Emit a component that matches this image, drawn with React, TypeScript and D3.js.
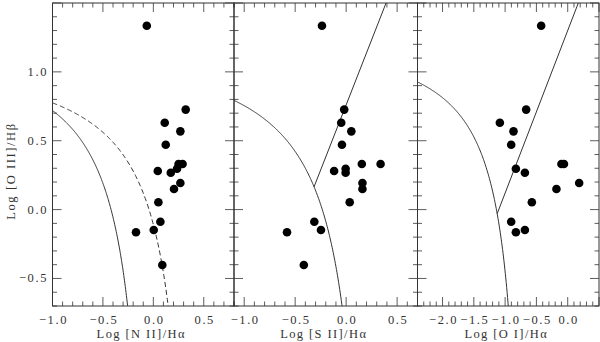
import React, { useEffect, useRef } from 'react'
import * as d3 from 'd3'

// log([O III]/Hbeta), one value per object
const oiii = [1.335, 0.726, 0.631, 0.568, 0.471, 0.331, 0.331, 0.297, 0.268, 0.28, 0.193, 0.15, 0.053, -0.088, -0.148, -0.165, -0.402]
// log([N II]/Halpha)
const nii = [-0.065, 0.321, 0.113, 0.268, 0.123, 0.29, 0.25, 0.235, 0.173, 0.044, 0.268, 0.205, 0.05, 0.07, 0.004, -0.172, 0.089]
// log([S II]/Halpha)
const sii = [-0.237, -0.019, -0.048, 0.051, -0.041, 0.154, 0.338, -0.005, -0.005, -0.118, 0.16, 0.16, 0.035, -0.312, -0.247, -0.58, -0.415]
// log([O I]/Halpha), null = no measurement
const oi = [-0.424, -0.664, -1.084, -0.866, -0.903, -0.1, -0.06, -0.828, -0.684, null, 0.183, -0.18, -0.573, -0.903, -0.684, -0.828, null]

const yTicks = [-0.5, 0.0, 0.5, 1.0]
const xTicks1 = [-1.0, -0.5, 0.0, 0.5]
const xTicks2 = [-1.0, -0.5, 0.0, 0.5]
const xTicks3 = [-2.0, -1.5, -1.0, -0.5, 0.0]

const panels = [
  { title: 'Log [N II]/H\u03b1', x: nii, domain: [-1.0, 0.8], ticks: xTicks1, left: 52.5, right: 234 },
  { title: 'Log [S II]/H\u03b1', x: sii, domain: [-1.1, 0.7], ticks: xTicks2, left: 234, right: 417.5 },
  { title: 'Log [O I]/H\u03b1', x: oi, domain: [-2.4, 0.5], ticks: xTicks3, left: 417.5, right: 599 },
]

// demarcation curves: y = a / (x - b) + c
const kauffmann = { a: 0.61, b: 0.05, c: 1.3 }
const kewleyN = { a: 0.61, b: 0.47, c: 1.19 }
const kewleyS = { a: 0.72, b: 0.32, c: 1.30 }
const kewleyO = { a: 0.73, b: -0.59, c: 1.33 }
// Seyfert / LINER lines: y = m x + k
const lineS = { m: 1.89, k: 0.76, from: -0.315 }
const lineO = { m: 1.18, k: 1.30, from: -1.127 }

const font = '"Liberation Serif", "DejaVu Serif", serif'
const ink = '#333'

function App() {
  const ref = useRef(null)

  useEffect(() => {
    const svg = d3.select(ref.current)
    svg.selectAll('*').remove()

    const top = 3
    const bottom = 306
    const y = d3.scaleLinear().domain([-0.7, 1.5]).range([bottom, top])

    const defs = svg.append('defs')
    const fmt = d => d3.format('.1f')(d).replace('-', '\u2212')

    panels.forEach((p, pi) => {
      const x = d3.scaleLinear().domain(p.domain).range([p.left, p.right])
      const g = svg.append('g')

      defs.append('clipPath').attr('id', 'clip' + pi)
        .append('rect')
        .attr('x', p.left).attr('y', top)
        .attr('width', p.right - p.left).attr('height', bottom - top)

      const plot = g.append('g').attr('clip-path', `url(#clip${pi})`)

      const hyper = (c, x0, x1) => {
        const xs = d3.range(0, 201).map(i => x0 + (x1 - x0) * i / 200)
        return d3.line()
          .x(d => x(d))
          .y(d => y(c.a / (d - c.b) + c.c))(xs)
      }
      const xAt = (c, v) => c.a / (v - c.c) + c.b

      if (pi === 0) {
        plot.append('path').attr('d', hyper(kauffmann, p.domain[0], xAt(kauffmann, -0.72)))
          .attr('fill', 'none').attr('stroke', ink).attr('stroke-width', 1)
        plot.append('path').attr('d', hyper(kewleyN, p.domain[0], xAt(kewleyN, -0.72)))
          .attr('fill', 'none').attr('stroke', ink).attr('stroke-width', 1)
          .attr('stroke-dasharray', '5,3')
      } else {
        const c = pi === 1 ? kewleyS : kewleyO
        const l = pi === 1 ? lineS : lineO
        plot.append('path').attr('d', hyper(c, p.domain[0], xAt(c, -0.72)))
          .attr('fill', 'none').attr('stroke', ink).attr('stroke-width', 1)
        const x1 = (1.52 - l.k) / l.m
        plot.append('path')
          .attr('d', d3.line()([[x(l.from), y(l.m * l.from + l.k)], [x(x1), y(l.m * x1 + l.k)]]))
          .attr('fill', 'none').attr('stroke', ink).attr('stroke-width', 1)
      }

      const pts = oiii.map((v, i) => ({ x: p.x[i], y: v })).filter(d => d.x !== null)
      plot.selectAll('circle').data(pts).join('circle')
        .attr('cx', d => x(d.x)).attr('cy', d => y(d.y))
        .attr('r', 4.3).attr('fill', '#000')

      // frame
      g.append('rect')
        .attr('x', p.left).attr('y', top)
        .attr('width', p.right - p.left).attr('height', bottom - top)
        .attr('fill', 'none').attr('stroke', ink).attr('stroke-width', 1)

      // x ticks, top and bottom, inward
      const xMinor = d3.range(Math.ceil(p.domain[0] * 10), Math.floor(p.domain[1] * 10) + 1).map(d => d / 10)
      xMinor.forEach(t => {
        const major = Math.abs(t * 2 - Math.round(t * 2)) < 1e-6
        const len = major ? 9 : 4.5
        g.append('line').attr('x1', x(t)).attr('x2', x(t)).attr('y1', bottom).attr('y2', bottom - len)
          .attr('stroke', ink).attr('stroke-width', 0.8)
        g.append('line').attr('x1', x(t)).attr('x2', x(t)).attr('y1', top).attr('y2', top + len)
          .attr('stroke', ink).attr('stroke-width', 0.8)
      })
      // y ticks, left and right, inward
      const yMinor = d3.range(-7, 16).map(d => d / 10)
      yMinor.forEach(t => {
        const major = Math.abs(t * 2 - Math.round(t * 2)) < 1e-6
        const len = major ? 9 : 4.5
        g.append('line').attr('x1', p.left).attr('x2', p.left + len).attr('y1', y(t)).attr('y2', y(t))
          .attr('stroke', ink).attr('stroke-width', 0.8)
        g.append('line').attr('x1', p.right).attr('x2', p.right - len).attr('y1', y(t)).attr('y2', y(t))
          .attr('stroke', ink).attr('stroke-width', 0.8)
      })

      g.selectAll('text.xt').data(p.ticks).join('text')
        .attr('class', 'xt')
        .attr('x', d => x(d) + 1).attr('y', 324)
        .attr('text-anchor', 'middle')
        .style('font-family', font).style('font-size', '12.5px').style('letter-spacing', '1.6px')
        .attr('fill', ink)
        .text(fmt)

      g.append('text')
        .attr('x', (p.left + p.right) / 2 - 2).attr('y', 338)
        .attr('text-anchor', 'middle')
        .style('font-family', font).style('font-size', '12.5px').style('letter-spacing', '1.4px')
        .attr('fill', ink)
        .text(p.title)
    })

    svg.selectAll('text.yt').data(yTicks).join('text')
      .attr('class', 'yt')
      .attr('x', 48).attr('y', d => y(d) + 4)
      .attr('text-anchor', 'end')
      .style('font-family', font).style('font-size', '12.5px').style('letter-spacing', '1.6px')
      .attr('fill', ink)
      .text(fmt)

    svg.append('text')
      .attr('transform', `translate(15, ${y(0.28)}) rotate(-90)`)
      .attr('text-anchor', 'middle')
      .style('font-family', font).style('font-size', '12.5px').style('letter-spacing', '1.6px')
      .attr('fill', ink)
      .text('Log [O III]/H\u03b2')
  }, [])

  return (
    <div style={{ position: 'fixed', left: 0, top: 0, background: '#fff' }}>
      <svg ref={ref} width={600} height={342} style={{ display: 'block' }} />
    </div>
  )
}

export default App
